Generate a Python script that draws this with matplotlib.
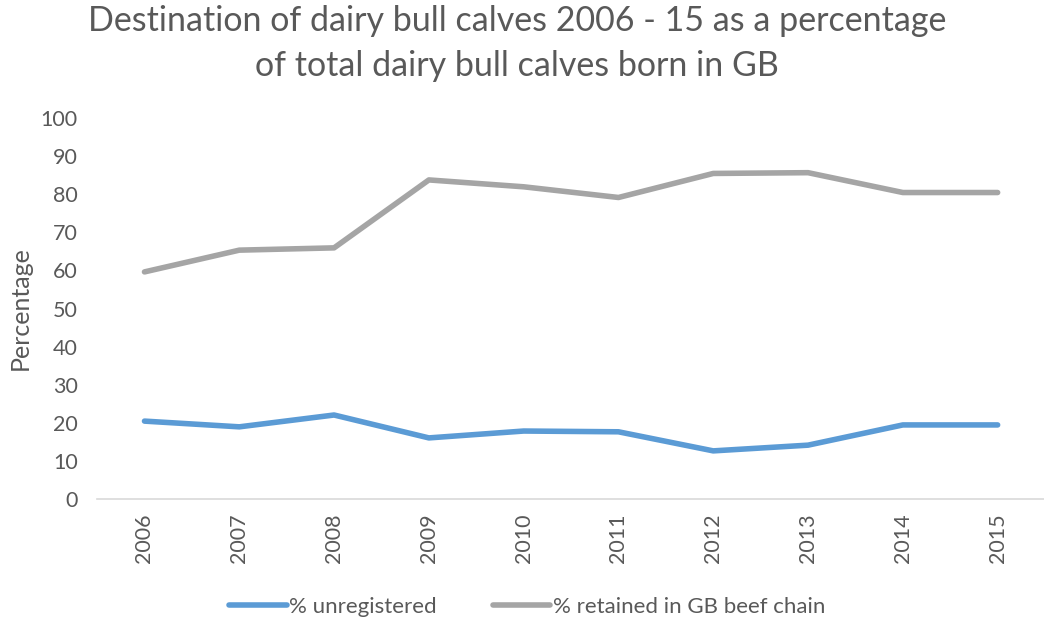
import numpy as np
import matplotlib.pyplot as plt

years = ['2006', '2007', '2008', '2009', '2010', '2011', '2012', '2013', '2014', '2015']
unregistered = [20.5, 19.0, 22.1, 16.1, 17.9, 17.7, 12.7, 14.2, 19.5, 19.5]
retained = [59.6, 65.3, 65.9, 83.7, 81.9, 79.1, 85.4, 85.6, 80.4, 80.4]

text_col = '#595959'
plt.rcParams['font.family'] = ['Lato', 'DejaVu Sans']

fig = plt.figure(figsize=(10.44, 6.18), dpi=100)
ax = fig.add_axes([0.093, 0.192, 0.908, 0.6175])

x = np.arange(len(years))
ax.plot(x, unregistered, color='#5B9BD5', lw=4, solid_capstyle='round', label='% unregistered')
ax.plot(x, retained, color='#A5A5A5', lw=4, solid_capstyle='round', label='% retained in GB beef chain')

ax.set_xlim(-0.5, len(years) - 0.5)
ax.set_ylim(0, 100)
ax.set_yticks(range(0, 101, 10))
ax.set_xticks(x)
ax.set_xticklabels(years, rotation=90)
ax.tick_params(axis='both', length=0, labelsize=15.5, colors=text_col)
ax.tick_params(axis='y', pad=14)
ax.tick_params(axis='x', pad=10)

for s in ['top', 'right', 'left']:
    ax.spines[s].set_visible(False)
ax.spines['bottom'].set_color('#D9D9D9')
ax.spines['bottom'].set_linewidth(1.2)

ax.set_ylabel('Percentage', fontsize=18, color=text_col, labelpad=6)

fig.suptitle('Destination of dairy bull calves 2006 - 15 as a percentage\nof total dairy bull calves born in GB',
             fontsize=24.5, color=text_col, x=0.495, y=0.992, linespacing=1.5)

fig.legend(loc='lower center', bbox_to_anchor=(0.505, -0.03), ncol=2, frameon=False,
           fontsize=16, labelcolor=text_col, handlelength=2.6, handletextpad=0.1, columnspacing=2.5)

fig.savefig('out.png', dpi=100)
